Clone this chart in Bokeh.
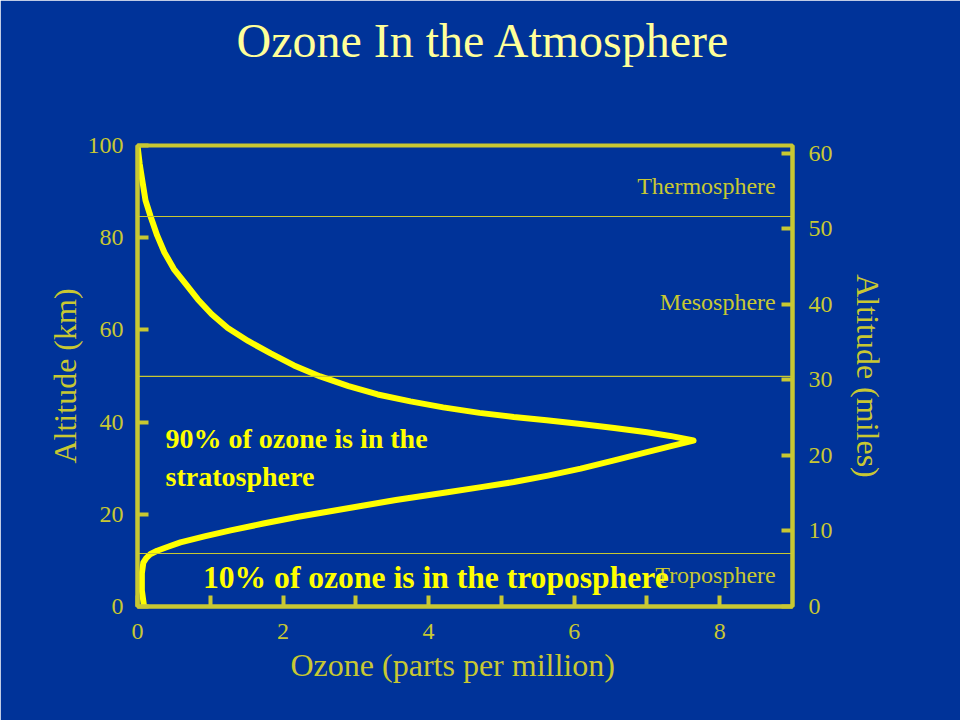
from bokeh.plotting import figure
from bokeh.models import (Range1d, LinearAxis, FixedTicker, Span, Label, Title)
from bokeh.embed import file_html
from bokeh.resources import INLINE

# ---------------- data ----------------
ALT_KM = [0, 3.5, 7.2, 9.5, 10.5, 11.4, 12.1, 12.9, 13.9, 15.2, 16.5, 18.0,
          19.4, 20.6, 21.9, 23.1, 24.8, 25.9, 27.0, 28.4, 29.9, 31.7, 33.5,
          34.8, 36.0, 37.0, 37.8, 38.7, 39.6, 40.4, 41.1, 42.0, 43.2, 44.5,
          46.0, 47.8, 49.9, 52.3, 54.9, 57.6, 60.4, 63.4, 66.6, 69.8, 73.2,
          76.8, 80.5, 84.6, 88.1, 92.0, 96.0, 100]
OZONE_PPM = [0.09, 0.06, 0.06, 0.08, 0.12, 0.18, 0.27, 0.41, 0.59, 0.92, 1.28,
             1.73, 2.19, 2.63, 3.11, 3.55, 4.26, 4.72, 5.17, 5.64, 6.09, 6.55,
             7.0, 7.33, 7.64, 7.32, 7.0, 6.55, 6.09, 5.62, 5.17, 4.7, 4.2, 3.75,
             3.3, 2.9, 2.51, 2.15, 1.83, 1.52, 1.24, 1.02, 0.83, 0.67, 0.5,
             0.37, 0.27, 0.18, 0.11, 0.07, 0.03, 0.0]
LAYER_BOUNDS_KM = [11.5, 49.9, 84.6]
LAYER_NAMES = ["Troposphere", "Mesosphere", "Thermosphere"]
KM_TICKS = [0, 20, 40, 60, 80, 100]
MILE_TICKS = [0, 10, 20, 30, 40, 50, 60]
PPM_TICKS = [0, 2, 4, 6, 8]
PPM_MINOR = [1, 3, 5, 7]

BG = "#003399"
OLIVE = "#c8c832"
YELLOW = "#ffff00"
PALE = "#ffff99"
SERIF = "Liberation Serif"

p = figure(width=960, height=720, x_range=Range1d(0, 9), y_range=Range1d(0, 100),
           output_backend="svg", toolbar_location=None,
           background_fill_color=BG, border_fill_color=BG,
           min_border_left=137, min_border_right=168,
           min_border_top=145, min_border_bottom=114)
p.grid.visible = False
p.outline_line_color = OLIVE
p.outline_line_width = 4

# title (a blank second line keeps it near the top of the slide)
p.title.text = "Ozone In the Atmosphere\n "
p.title.align = "left"
p.title.offset = 99
p.title.vertical_align = "top"
p.title.text_font = SERIF
p.title.text_font_size = "48px"
p.title.text_font_style = "normal"
p.title.text_line_height = 1.25
p.title.text_color = PALE
p.title.standoff = 22

# x axis
xa = p.xaxis[0]
xa.ticker = FixedTicker(ticks=PPM_TICKS, minor_ticks=PPM_MINOR)
# left y axis
ya = p.yaxis[0]
ya.ticker = FixedTicker(ticks=KM_TICKS)
ya.axis_label = "Altitude (km)"
ya.axis_label_standoff = 2

# right axis in miles
p.extra_y_ranges = {"miles": Range1d(0, 61)}
ra = LinearAxis(y_range_name="miles", ticker=FixedTicker(ticks=MILE_TICKS),
                axis_label="Altitude (miles)")
p.add_layout(ra, "right")
ra.axis_label_standoff = 14

for ax in (xa, ya, ra):
    ax.axis_line_color = OLIVE
    ax.axis_line_width = 4
    ax.major_tick_in = 11
    ax.major_tick_out = 0
    ax.major_tick_line_color = OLIVE
    ax.major_tick_line_width = 4
    ax.minor_tick_in = 11
    ax.minor_tick_out = 0
    ax.minor_tick_line_color = OLIVE
    ax.minor_tick_line_width = 4
    ax.major_label_text_font = SERIF
    ax.major_label_text_font_size = "24px"
    ax.major_label_text_color = OLIVE
    ax.axis_label_text_font = SERIF
    ax.axis_label_text_font_size = "32px"
    ax.axis_label_text_font_style = "normal"
    ax.axis_label_text_color = OLIVE
ya.minor_tick_line_color = None
ra.minor_tick_line_color = None
xa.major_label_standoff = 17
ya.major_label_standoff = 14
ra.major_label_standoff = 16

xt = Title(text="Ozone (parts per million)", align="left", offset=153,
           text_font=SERIF, text_font_size="32px", text_font_style="normal",
           text_color=OLIVE, standoff=6)
p.add_layout(xt, "below")

# layer boundaries
for b in LAYER_BOUNDS_KM:
    p.add_layout(Span(location=b, dimension="width", line_color=OLIVE,
                      line_width=1.2))

# layer names
for name, yk in zip(LAYER_NAMES, [6.75, 66.0, 91.2]):
    p.add_layout(Label(x=8.77, y=yk, text=name, text_align="right",
                       text_baseline="middle", text_font=SERIF,
                       text_font_size="24px", text_color=OLIVE))

# ozone curve
p.line(OZONE_PPM, ALT_KM, line_color=YELLOW, line_width=6,
       line_join="round", line_cap="round")

# annotations
for txt, xx, yy, fs in [("90% of ozone is in the", 0.385, 36.55, "28px"),
                        ("stratosphere", 0.385, 28.1, "28px"),
                        ("10% of ozone is in the troposphere", 0.9, 6.25, "31.6px")]:
    p.add_layout(Label(x=xx, y=yy, text=txt, text_baseline="middle",
                       text_font=SERIF, text_font_size=fs,
                       text_font_style="bold", text_color=YELLOW))

open("out.html", "w").write(file_html(p, INLINE))
